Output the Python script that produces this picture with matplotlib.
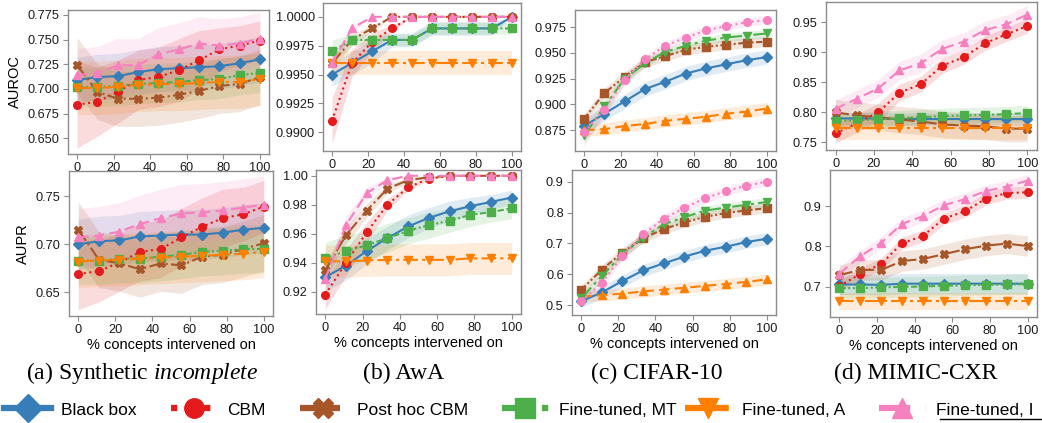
import matplotlib
matplotlib.use("Agg")
import matplotlib.pyplot as plt
from matplotlib.lines import Line2D

W, H = 1042, 423

X = [0, 11.1, 22.2, 33.3, 44.4, 55.6, 66.7, 77.8, 88.9, 100]

SERIES = ["Black box", "CBM", "Post hoc CBM", "Fine-tuned, MT", "Fine-tuned, A", "Fine-tuned, I"]

COLORS = {
    "Black box": "#377eb8",
    "CBM": "#e41a1c",
    "Post hoc CBM": "#a65628",
    "Fine-tuned, MT": "#4daf4a",
    "Fine-tuned, A": "#ff7f00",
    "Fine-tuned, I": "#f781bf",
}
# CIFAR-10 panel uses the same line styles but a shuffled palette
CIFAR_COLORS = {
    "Black box": "#377eb8",
    "CBM": "#f781bf",
    "Fine-tuned, MT": "#a65628",
    "Fine-tuned, A": "#4daf4a",
    "Fine-tuned, I": "#ff7f00",
}
STYLES = {
    "Black box": ("D", "-"),
    "CBM": ("o", ":"),
    "Post hoc CBM": ("X", "-."),
    "Fine-tuned, MT": ("s", (0, (3, 1.2, 1, 1.2, 1, 1.2))),
    "Fine-tuned, A": ("v", (0, (7, 2, 1.5, 2))),
    "Fine-tuned, I": ("^", (0, (5, 2.5))),
}

# ---- (a) Synthetic incomplete ----
syn_auroc = {
    "Black box": [0.709, 0.712, 0.713, 0.717, 0.720, 0.721, 0.722, 0.723, 0.726, 0.730],
    "CBM": [0.684, 0.687, 0.697, 0.709, 0.712, 0.719, 0.729, 0.740, 0.744, 0.749],
    "Post hoc CBM": [0.724, 0.697, 0.690, 0.690, 0.691, 0.694, 0.698, 0.703, 0.705, 0.712],
    "Fine-tuned, MT": [0.702, 0.702, 0.703, 0.705, 0.706, 0.707, 0.709, 0.710, 0.714, 0.716],
    "Fine-tuned, A": [0.701, 0.701, 0.702, 0.704, 0.705, 0.705, 0.706, 0.707, 0.707, 0.710],
    "Fine-tuned, I": [0.714, 0.716, 0.724, 0.724, 0.735, 0.740, 0.746, 0.744, 0.746, 0.751],
}
syn_auroc_band = {
    "Black box": 0.023,
    "CBM": [0.044, 0.035, 0.032, 0.03, 0.03, 0.032, 0.03, 0.022, 0.02, 0.02],
    "Post hoc CBM": 0.028,
    "Fine-tuned, MT": 0.02,
    "Fine-tuned, A": 0.027,
    "Fine-tuned, I": 0.027,
}
syn_aupr = {
    "Black box": [0.700, 0.703, 0.704, 0.708, 0.709, 0.710, 0.710, 0.712, 0.715, 0.717],
    "CBM": [0.669, 0.672, 0.681, 0.692, 0.695, 0.707, 0.718, 0.727, 0.731, 0.739],
    "Post hoc CBM": [0.715, 0.684, 0.680, 0.674, 0.680, 0.678, 0.687, 0.689, 0.695, 0.701],
    "Fine-tuned, MT": [0.683, 0.683, 0.685, 0.685, 0.687, 0.689, 0.692, 0.693, 0.695, 0.695],
    "Fine-tuned, A": [0.682, 0.683, 0.684, 0.685, 0.686, 0.687, 0.688, 0.689, 0.690, 0.692],
    "Fine-tuned, I": [0.707, 0.709, 0.713, 0.721, 0.727, 0.732, 0.733, 0.735, 0.738, 0.741],
}
syn_aupr_band = {
    "Black box": 0.026,
    "CBM": [0.037, 0.032, 0.03, 0.03, 0.03, 0.03, 0.03, 0.03, 0.028, 0.027],
    "Post hoc CBM": 0.029,
    "Fine-tuned, MT": 0.025,
    "Fine-tuned, A": 0.027,
    "Fine-tuned, I": 0.03,
}

# ---- (b) AwA ----
awa_auroc = {
    "Black box": [0.9950, 0.9960, 0.9970, 0.9980, 0.9980, 0.9990, 0.9990, 0.9990, 0.9990, 1.0000],
    "CBM": [0.9910, 0.9960, 0.9978, 0.9990, 1.0000, 1.0000, 1.0000, 1.0000, 1.0000, 1.0000],
    "Post hoc CBM": [0.9960, 0.9980, 0.9990, 1.0000, 1.0000, 1.0000, 1.0000, 1.0000, 1.0000, 1.0000],
    "Fine-tuned, MT": [0.9970, 0.9980, 0.9980, 0.9980, 0.9980, 0.9990, 0.9990, 0.9990, 0.9990, 0.9990],
    "Fine-tuned, A": [0.9960, 0.9960, 0.9960, 0.9960, 0.9960, 0.9960, 0.9960, 0.9960, 0.9960, 0.9960],
    "Fine-tuned, I": [0.9960, 0.9990, 1.0000, 1.0000, 1.0000, 1.0000, 1.0000, 1.0000, 1.0000, 1.0000],
}
awa_auroc_band = {
    "Black box": [0.001, 0.001, 0.001, 0.0006, 0.0006, 0.0006, 0.0006, 0.0006, 0.0006, 0.0],
    "CBM": [0.002, 0.0012, 0.0008, 0.0003, 0, 0, 0, 0, 0, 0],
    "Post hoc CBM": [0.0005, 0.0005, 0.0003, 0, 0, 0, 0, 0, 0, 0],
    "Fine-tuned, MT": [0.001, 0.0005, 0.0005, 0.0005, 0.0005, 0.0005, 0.0005, 0.0005, 0.0005, 0.0005],
    "Fine-tuned, A": 0.001,
    "Fine-tuned, I": [0.0005, 0.0003, 0, 0, 0, 0, 0, 0, 0, 0],
}
awa_aupr = {
    "Black box": [0.930, 0.938, 0.948, 0.957, 0.965, 0.971, 0.9755, 0.979, 0.982, 0.985],
    "CBM": [0.918, 0.940, 0.961, 0.980, 0.992, 0.998, 1.000, 1.000, 1.000, 1.000],
    "Post hoc CBM": [0.935, 0.959, 0.976, 0.991, 0.997, 0.999, 1.000, 1.000, 1.000, 1.000],
    "Fine-tuned, MT": [0.943, 0.948, 0.952, 0.957, 0.962, 0.966, 0.969, 0.973, 0.975, 0.9775],
    "Fine-tuned, A": [0.941, 0.941, 0.9415, 0.942, 0.942, 0.942, 0.942, 0.943, 0.943, 0.943],
    "Fine-tuned, I": [0.929, 0.966, 0.988, 0.997, 1.000, 1.000, 1.000, 1.000, 1.000, 1.000],
}
awa_aupr_band = {
    "Black box": [0.01, 0.01, 0.009, 0.008, 0.008, 0.007, 0.007, 0.006, 0.005, 0.005],
    "CBM": [0.01, 0.009, 0.007, 0.004, 0.002, 0.001, 0, 0, 0, 0],
    "Post hoc CBM": [0.005, 0.006, 0.005, 0.003, 0.002, 0.001, 0, 0, 0, 0],
    "Fine-tuned, MT": [0.011, 0.011, 0.01, 0.01, 0.009, 0.009, 0.008, 0.008, 0.007, 0.007],
    "Fine-tuned, A": 0.011,
    "Fine-tuned, I": [0.006, 0.006, 0.004, 0.002, 0, 0, 0, 0, 0, 0],
}

# ---- (c) CIFAR-10 ----
cifar_auroc = {
    "Black box": [0.879, 0.891, 0.903, 0.915, 0.922, 0.930, 0.935, 0.939, 0.943, 0.946],
    "Fine-tuned, I": [0.875, 0.876, 0.879, 0.881, 0.884, 0.886, 0.888, 0.891, 0.893, 0.896],
    "Fine-tuned, MT": [0.886, 0.911, 0.927, 0.941, 0.947, 0.953, 0.956, 0.958, 0.960, 0.961],
    "Fine-tuned, A": [0.870, 0.898, 0.925, 0.940, 0.951, 0.957, 0.962, 0.965, 0.967, 0.969],
    "CBM": [0.873, 0.895, 0.924, 0.944, 0.957, 0.965, 0.972, 0.976, 0.980, 0.982],
}
cifar_auroc_band = {
    "Black box": 0.007,
    "Fine-tuned, I": 0.006,
    "Fine-tuned, MT": 0.005,
    "Fine-tuned, A": [0.01, 0.007, 0.005, 0.004, 0.004, 0.004, 0.004, 0.004, 0.004, 0.004],
    "CBM": [0.01, 0.007, 0.005, 0.004, 0.004, 0.004, 0.004, 0.004, 0.004, 0.004],
}
cifar_aupr = {
    "Black box": [0.512, 0.541, 0.578, 0.612, 0.635, 0.657, 0.676, 0.689, 0.704, 0.715],
    "Fine-tuned, I": [0.527, 0.532, 0.537, 0.544, 0.550, 0.556, 0.562, 0.568, 0.575, 0.583],
    "Fine-tuned, MT": [0.549, 0.615, 0.670, 0.717, 0.746, 0.768, 0.786, 0.798, 0.807, 0.814],
    "Fine-tuned, A": [0.522, 0.594, 0.664, 0.718, 0.762, 0.785, 0.806, 0.816, 0.825, 0.834],
    "CBM": [0.512, 0.573, 0.659, 0.729, 0.780, 0.815, 0.846, 0.869, 0.887, 0.900],
}
cifar_aupr_band = {
    "Black box": 0.02,
    "Fine-tuned, I": 0.018,
    "Fine-tuned, MT": 0.016,
    "Fine-tuned, A": 0.015,
    "CBM": 0.015,
}

# ---- (d) MIMIC-CXR ----
mimic_auroc = {
    "Black box": [0.790, 0.790, 0.790, 0.789, 0.789, 0.789, 0.789, 0.789, 0.789, 0.789],
    "CBM": [0.765, 0.782, 0.800, 0.833, 0.847, 0.878, 0.892, 0.915, 0.930, 0.944],
    "Post hoc CBM": [0.800, 0.795, 0.792, 0.788, 0.785, 0.780, 0.778, 0.777, 0.773, 0.773],
    "Fine-tuned, MT": [0.786, 0.787, 0.789, 0.790, 0.792, 0.794, 0.795, 0.796, 0.797, 0.799],
    "Fine-tuned, A": [0.774, 0.774, 0.774, 0.774, 0.774, 0.774, 0.774, 0.774, 0.774, 0.774],
    "Fine-tuned, I": [0.806, 0.823, 0.840, 0.870, 0.882, 0.906, 0.918, 0.937, 0.947, 0.963],
}
mimic_auroc_band = {
    "Black box": 0.01,
    "CBM": [0.016, 0.015, 0.015, 0.014, 0.013, 0.013, 0.012, 0.012, 0.012, 0.012],
    "Post hoc CBM": 0.022,
    "Fine-tuned, MT": 0.013,
    "Fine-tuned, A": 0.02,
    "Fine-tuned, I": 0.015,
}
mimic_aupr = {
    "Black box": [0.706, 0.706, 0.705, 0.708, 0.708, 0.708, 0.708, 0.708, 0.708, 0.708],
    "CBM": [0.702, 0.732, 0.757, 0.808, 0.826, 0.869, 0.887, 0.918, 0.932, 0.934],
    "Post hoc CBM": [0.729, 0.742, 0.742, 0.764, 0.769, 0.781, 0.793, 0.802, 0.807, 0.801],
    "Fine-tuned, MT": [0.697, 0.697, 0.699, 0.700, 0.701, 0.703, 0.704, 0.705, 0.706, 0.707],
    "Fine-tuned, A": [0.664, 0.664, 0.664, 0.664, 0.664, 0.664, 0.664, 0.664, 0.664, 0.664],
    "Fine-tuned, I": [0.733, 0.776, 0.809, 0.856, 0.875, 0.902, 0.917, 0.937, 0.948, 0.963],
}
mimic_aupr_band = {
    "Black box": 0.025,
    "CBM": 0.015,
    "Post hoc CBM": 0.025,
    "Fine-tuned, MT": 0.025,
    "Fine-tuned, A": 0.022,
    "Fine-tuned, I": 0.015,
}

CAPTIONS = [r"(a) Synthetic $\mathit{incomplete}$", "(b) AwA", "(c) CIFAR-10", "(d) MIMIC-CXR"]

plt.rcParams["font.family"] = ["Liberation Sans", "DejaVu Sans"]
plt.rcParams["font.size"] = 9
plt.rcParams["mathtext.fontset"] = "custom"
plt.rcParams["mathtext.rm"] = "Liberation Serif"
plt.rcParams["mathtext.it"] = "Liberation Serif:italic"


def rect(l, t, r, b):
    # pixel box (from top-left) -> figure fraction
    return [l / W, 1 - b / H, (r - l) / W, (b - t) / H]


def draw_panel(ax, data, bands, colors, ylim, yticks, fmt):
    for name, ys in data.items():
        marker, ls = STYLES[name]
        c = colors[name]
        bw = bands[name]
        if not isinstance(bw, list):
            bw = [bw] * len(ys)
        lo = [y - b for y, b in zip(ys, bw)]
        hi = [y + b for y, b in zip(ys, bw)]
        ax.fill_between(X, lo, hi, color=c, alpha=0.15, linewidth=0)
        ax.plot(X, ys, color=c, marker=marker, linestyle=ls, linewidth=1.5,
                markersize=5.5)
    ax.set_xlim(-5, 105)
    ax.set_ylim(*ylim)
    ax.set_xticks([0, 20, 40, 60, 80, 100])
    ax.set_yticks(yticks)
    ax.set_yticklabels([fmt.format(v) for v in yticks])
    for s in ax.spines.values():
        s.set_color("#8c8c8c")
        s.set_linewidth(1.0)
    ax.tick_params(colors="#8c8c8c", labelcolor="#1a1a1a", labelsize=9.2,
                   length=3.5, width=0.8, pad=2.5)


fig = plt.figure(figsize=(W / 100, H / 100), dpi=100)

panels = [
    (rect(68, 10, 269, 154), syn_auroc, syn_auroc_band, COLORS, (0.634, 0.780),
     [0.650, 0.675, 0.700, 0.725, 0.750, 0.775], "{:.3f}", "AUROC", False),
    (rect(69, 171, 273, 316), syn_aupr, syn_aupr_band, COLORS, (0.6254, 0.776),
     [0.65, 0.70, 0.75], "{:.2f}", "AUPR", True),
    (rect(323, 3, 521, 151), awa_auroc, awa_auroc_band, COLORS, (0.98838, 1.0012),
     [0.9900, 0.9925, 0.9950, 0.9975, 1.0000], "{:.4f}", None, False),
    (rect(316, 170, 521, 314), awa_aupr, awa_aupr_band, COLORS, (0.9046, 1.004),
     [0.92, 0.94, 0.96, 0.98, 1.00], "{:.2f}", None, True),
    (rect(575, 10, 776, 151), cifar_auroc, cifar_auroc_band, CIFAR_COLORS, (0.8547, 0.9918),
     [0.875, 0.900, 0.925, 0.950, 0.975], "{:.3f}", None, False),
    (rect(572, 170, 776, 315), cifar_aupr, cifar_aupr_band, CIFAR_COLORS, (0.4676, 0.938),
     [0.5, 0.6, 0.7, 0.8, 0.9], "{:.1f}", None, True),
    (rect(826, 2, 1037, 150), mimic_auroc, mimic_auroc_band, COLORS, (0.7374, 0.984),
     [0.75, 0.80, 0.85, 0.90, 0.95], "{:.2f}", None, False),
    (rect(830, 170, 1037, 317), mimic_aupr, mimic_aupr_band, COLORS, (0.6256, 0.989),
     [0.7, 0.8, 0.9], "{:.1f}", None, True),
]

for box, data, bands, colors, ylim, yticks, fmt, ylab, bottom in panels:
    ax = fig.add_axes(box)
    draw_panel(ax, data, bands, colors, ylim, yticks, fmt)
    if ylab:
        ax.set_ylabel(ylab, fontsize=10.5, labelpad=4)
    if bottom:
        ax.set_xlabel("% concepts intervened on", fontsize=10.5, labelpad=1)

# sub-figure captions
cap_x = [142, 404, 657, 916]
serif = ["Liberation Serif", "DejaVu Serif"]
for cx, cap in zip(cap_x, CAPTIONS):
    fig.text(cx / W, 1 - 373 / H, cap, ha="center", va="center",
             family=serif, fontsize=17)

# shared legend along the bottom (two pieces so the spacing follows the original)
handles = []
for name in SERIES:
    marker, ls = STYLES[name]
    handles.append(Line2D([], [], color=COLORS[name], marker=marker, linestyle=ls,
                          linewidth=4.5, markersize=14))
leg_kw = dict(loc="center left", frameon=False, fontsize=12.5, handlelength=2.7,
              handletextpad=0.58, columnspacing=1.95, borderaxespad=0, borderpad=0)
fig.legend(handles[:4], SERIES[:4], bbox_to_anchor=(0.004, 1 - 410 / H),
           ncol=4, **leg_kw)
fig.legend(handles[4:], SERIES[4:], bbox_to_anchor=(685 / W, 1 - 410 / H),
           ncol=2, **leg_kw)
fig.add_artist(Line2D([940 / W, 1.0], [1 - 419 / H, 1 - 419 / H], color="black",
                      linewidth=1.0))

fig.savefig("out.png", dpi=100)
